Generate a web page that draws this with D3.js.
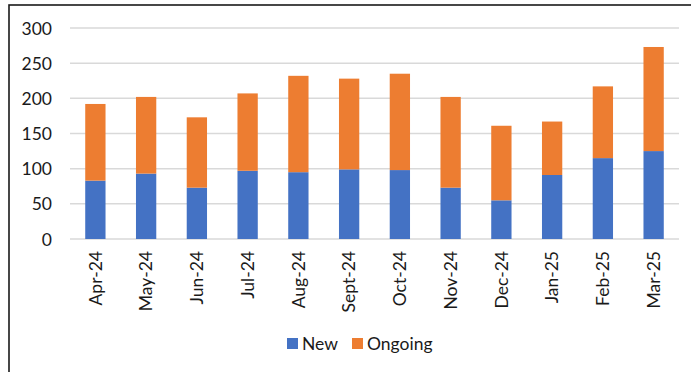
<!DOCTYPE html>
<html><head><meta charset="utf-8">
<script src="https://cdn.jsdelivr.net/npm/d3@7"></script>
<style>body{margin:0;background:#fff;}svg{display:block;font-family:Lato,"Open Sans",sans-serif;}</style>
</head><body>
<svg id="c" width="691" height="372"></svg>
<script>
const categories = ["Apr-24","May-24","Jun-24","Jul-24","Aug-24","Sept-24","Oct-24","Nov-24","Dec-24","Jan-25","Feb-25","Mar-25"];
const newValues = [83,93,73,97,95,99,98,73,55,91,115,125];
const ongoingValues = [109,109,100,110,137,129,137,129,106,76,102,148];
const yTicks = [0,50,100,150,200,250,300];
const seriesNames = ["New","Ongoing"];
const colors = ["#4472C4","#ED7D31"];

const svg = d3.select("#c");
svg.append("rect").attr("x",9).attr("y",5).attr("width",720).attr("height",420)
  .attr("fill","none").attr("stroke","#1a1a1a").attr("stroke-width",1.6);

const x = d3.scaleBand().domain(categories).range([70,679]).paddingInner(0.6).paddingOuter(0.3);
const y = d3.scaleLinear().domain([0,300]).range([239,28]);

const g = svg.append("g");
g.selectAll("line.grid").data(yTicks).join("line")
  .attr("x1",70).attr("x2",679).attr("y1",d=>y(d)).attr("y2",d=>y(d))
  .attr("stroke","#d9d9d9").attr("stroke-width",1.5);

const yAxis = d3.axisLeft(y).tickValues(yTicks).tickSize(0).tickPadding(0);
const ya = svg.append("g").attr("transform","translate(52,0)").call(yAxis);
ya.select(".domain").remove();
ya.selectAll("text").attr("font-size",17.5).attr("fill","#1a1a1a").attr("font-family","Lato").attr("dy","0.35em");

const stackData = categories.map((c,i)=>({cat:c, New:newValues[i], Ongoing:ongoingValues[i]}));
const stacked = d3.stack().keys(seriesNames)(stackData);
svg.append("g").selectAll("g").data(stacked).join("g").attr("fill",(d,i)=>colors[i])
  .selectAll("rect").data(d=>d).join("rect")
  .attr("x",d=>x(d.data.cat)).attr("width",x.bandwidth())
  .attr("y",d=>y(d[1])).attr("height",d=>y(d[0])-y(d[1]));

const xAxis = d3.axisBottom(x).tickSize(0).tickPadding(0);
const xa = svg.append("g").attr("transform","translate(0,239)").call(xAxis);
xa.select(".domain").remove();
xa.selectAll("text").attr("font-size",17.5).attr("fill","#1a1a1a").attr("font-family","Lato")
  .attr("transform","rotate(-90)").attr("text-anchor","end")
  .attr("x",-12).attr("y",0).attr("dy","0.35em");

const leg = svg.append("g");
const legX = [287,352];
const textX = [302,367];
seriesNames.forEach((s,i)=>{
  leg.append("rect").attr("x",legX[i]).attr("y",338).attr("width",11).attr("height",11).attr("fill",colors[i]);
  leg.append("text").attr("x",textX[i]).attr("y",349.5).attr("font-size",17.5).attr("fill","#1a1a1a").text(s);
});
</script>
</body></html>
